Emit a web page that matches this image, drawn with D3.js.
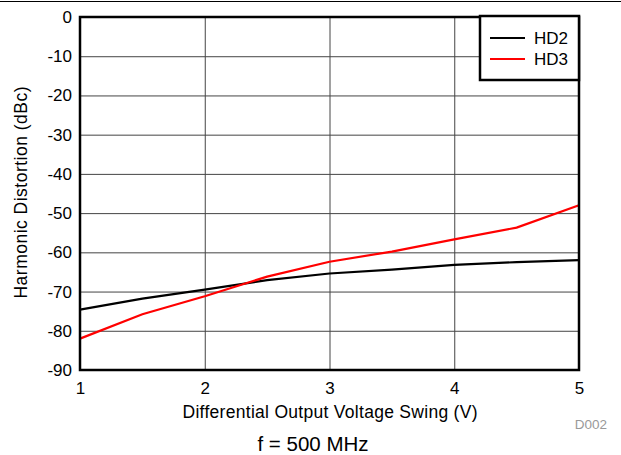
<!DOCTYPE html>
<html>
<head>
<meta charset="utf-8">
<script src="https://cdn.jsdelivr.net/npm/d3@7"></script>
<style>
  body { margin: 0; background: #fff; }
  svg { display: block; font-family: "Liberation Sans", Arial, sans-serif; }
</style>
</head>
<body>
<div id="chart"></div>
<script>
const swing = [1, 1.5, 2, 2.5, 3, 3.5, 4, 4.5, 5];
const hd2 = [-74.6, -71.8, -69.5, -67.1, -65.4, -64.4, -63.2, -62.5, -62];
const hd3 = [-82, -75.8, -71.2, -66.2, -62.4, -59.8, -56.7, -53.7, -48];
const xTicks = [1, 2, 3, 4, 5];
const yTicks = [0, -10, -20, -30, -40, -50, -60, -70, -80, -90];

const width = 621;
const height = 455;
const area = { left: 80, right: 579, top: 17, bottom: 370 };
const font = '"Liberation Sans", Arial, sans-serif';

const svg = d3.select('#chart')
  .append('svg')
  .attr('width', width)
  .attr('height', height);

// top rule of the page
svg.append('line')
  .attr('x1', 0).attr('x2', width)
  .attr('y1', 1.5).attr('y2', 1.5)
  .attr('stroke', '#000').attr('stroke-width', 1);

const x = d3.scaleLinear().domain([1, 5]).range([area.left, area.right]);
const y = d3.scaleLinear().domain([-90, 0]).range([area.bottom, area.top]);

// gridlines
svg.append('g')
  .attr('transform', `translate(0, ${area.bottom})`)
  .call(d3.axisBottom(x).tickValues(xTicks).tickFormat('').tickSize(-(area.bottom - area.top)))
  .call((g) => g.select('.domain').remove())
  .call((g) => g.selectAll('line').attr('stroke', '#444').attr('stroke-width', 1));

svg.append('g')
  .attr('transform', `translate(${area.left}, 0)`)
  .call(d3.axisLeft(y).tickValues(yTicks).tickFormat('').tickSize(-(area.right - area.left)))
  .call((g) => g.select('.domain').remove())
  .call((g) => g.selectAll('line').attr('stroke', '#444').attr('stroke-width', 1));

// tick labels
const xAxis = svg.append('g')
  .attr('transform', `translate(0, ${area.bottom})`)
  .call(d3.axisBottom(x).tickValues(xTicks).tickFormat((d) => String(d)).tickSize(0).tickPadding(12));
xAxis.select('.domain').remove();
xAxis.selectAll('text').attr('font-size', 17).attr('fill', '#000').style('font-family', font);

const yAxis = svg.append('g')
  .attr('transform', `translate(${area.left}, 0)`)
  .call(d3.axisLeft(y).tickValues(yTicks).tickFormat((d) => String(d)).tickSize(0).tickPadding(8));
yAxis.select('.domain').remove();
yAxis.selectAll('text').attr('font-size', 17).attr('fill', '#000').style('font-family', font);

// series
const line = d3.line().x((d) => x(d[0])).y((d) => y(d[1]));
const series = [
  { name: 'HD2', values: hd2, color: '#000000' },
  { name: 'HD3', values: hd3, color: '#ff0000' },
];

svg.append('g')
  .selectAll('path')
  .data(series)
  .join('path')
  .attr('d', (s) => line(swing.map((v, i) => [v, s.values[i]])))
  .attr('fill', 'none')
  .attr('stroke', (s) => s.color)
  .attr('stroke-width', 2.2);

// plot frame
svg.append('rect')
  .attr('x', area.left).attr('y', area.top)
  .attr('width', area.right - area.left)
  .attr('height', area.bottom - area.top)
  .attr('fill', 'none')
  .attr('stroke', '#000')
  .attr('stroke-width', 2.5);

// legend
const legend = svg.append('g');
legend.append('rect')
  .attr('x', 480).attr('y', 16)
  .attr('width', 99).attr('height', 64)
  .attr('fill', '#fff')
  .attr('stroke', '#000')
  .attr('stroke-width', 2.5);

series.forEach((s, i) => {
  const ly = 38 + i * 21;
  legend.append('line')
    .attr('x1', 490).attr('x2', 525)
    .attr('y1', ly).attr('y2', ly)
    .attr('stroke', s.color).attr('stroke-width', 2.2);
  legend.append('text')
    .attr('x', 534).attr('y', ly + 6)
    .attr('font-size', 17)
    .text(s.name);
});

// titles
svg.append('text')
  .attr('transform', `translate(27, ${(area.top + area.bottom) / 2 - 1}) rotate(-90)`)
  .attr('text-anchor', 'middle')
  .attr('font-size', 17.5)
  .attr('textLength', 212)
  .text('Harmonic Distortion (dBc)');

svg.append('text')
  .attr('x', 330).attr('y', 418)
  .attr('text-anchor', 'middle')
  .attr('font-size', 17.5)
  .attr('textLength', 295)
  .text('Differential Output Voltage Swing (V)');

svg.append('text')
  .attr('x', 607).attr('y', 429)
  .attr('text-anchor', 'end')
  .attr('font-size', 13.5)
  .attr('fill', '#999')
  .text('D002');

svg.append('text')
  .attr('x', 313).attr('y', 451)
  .attr('text-anchor', 'middle')
  .attr('font-size', 20.5)
  .text('f = 500 MHz');
</script>
</body>
</html>
